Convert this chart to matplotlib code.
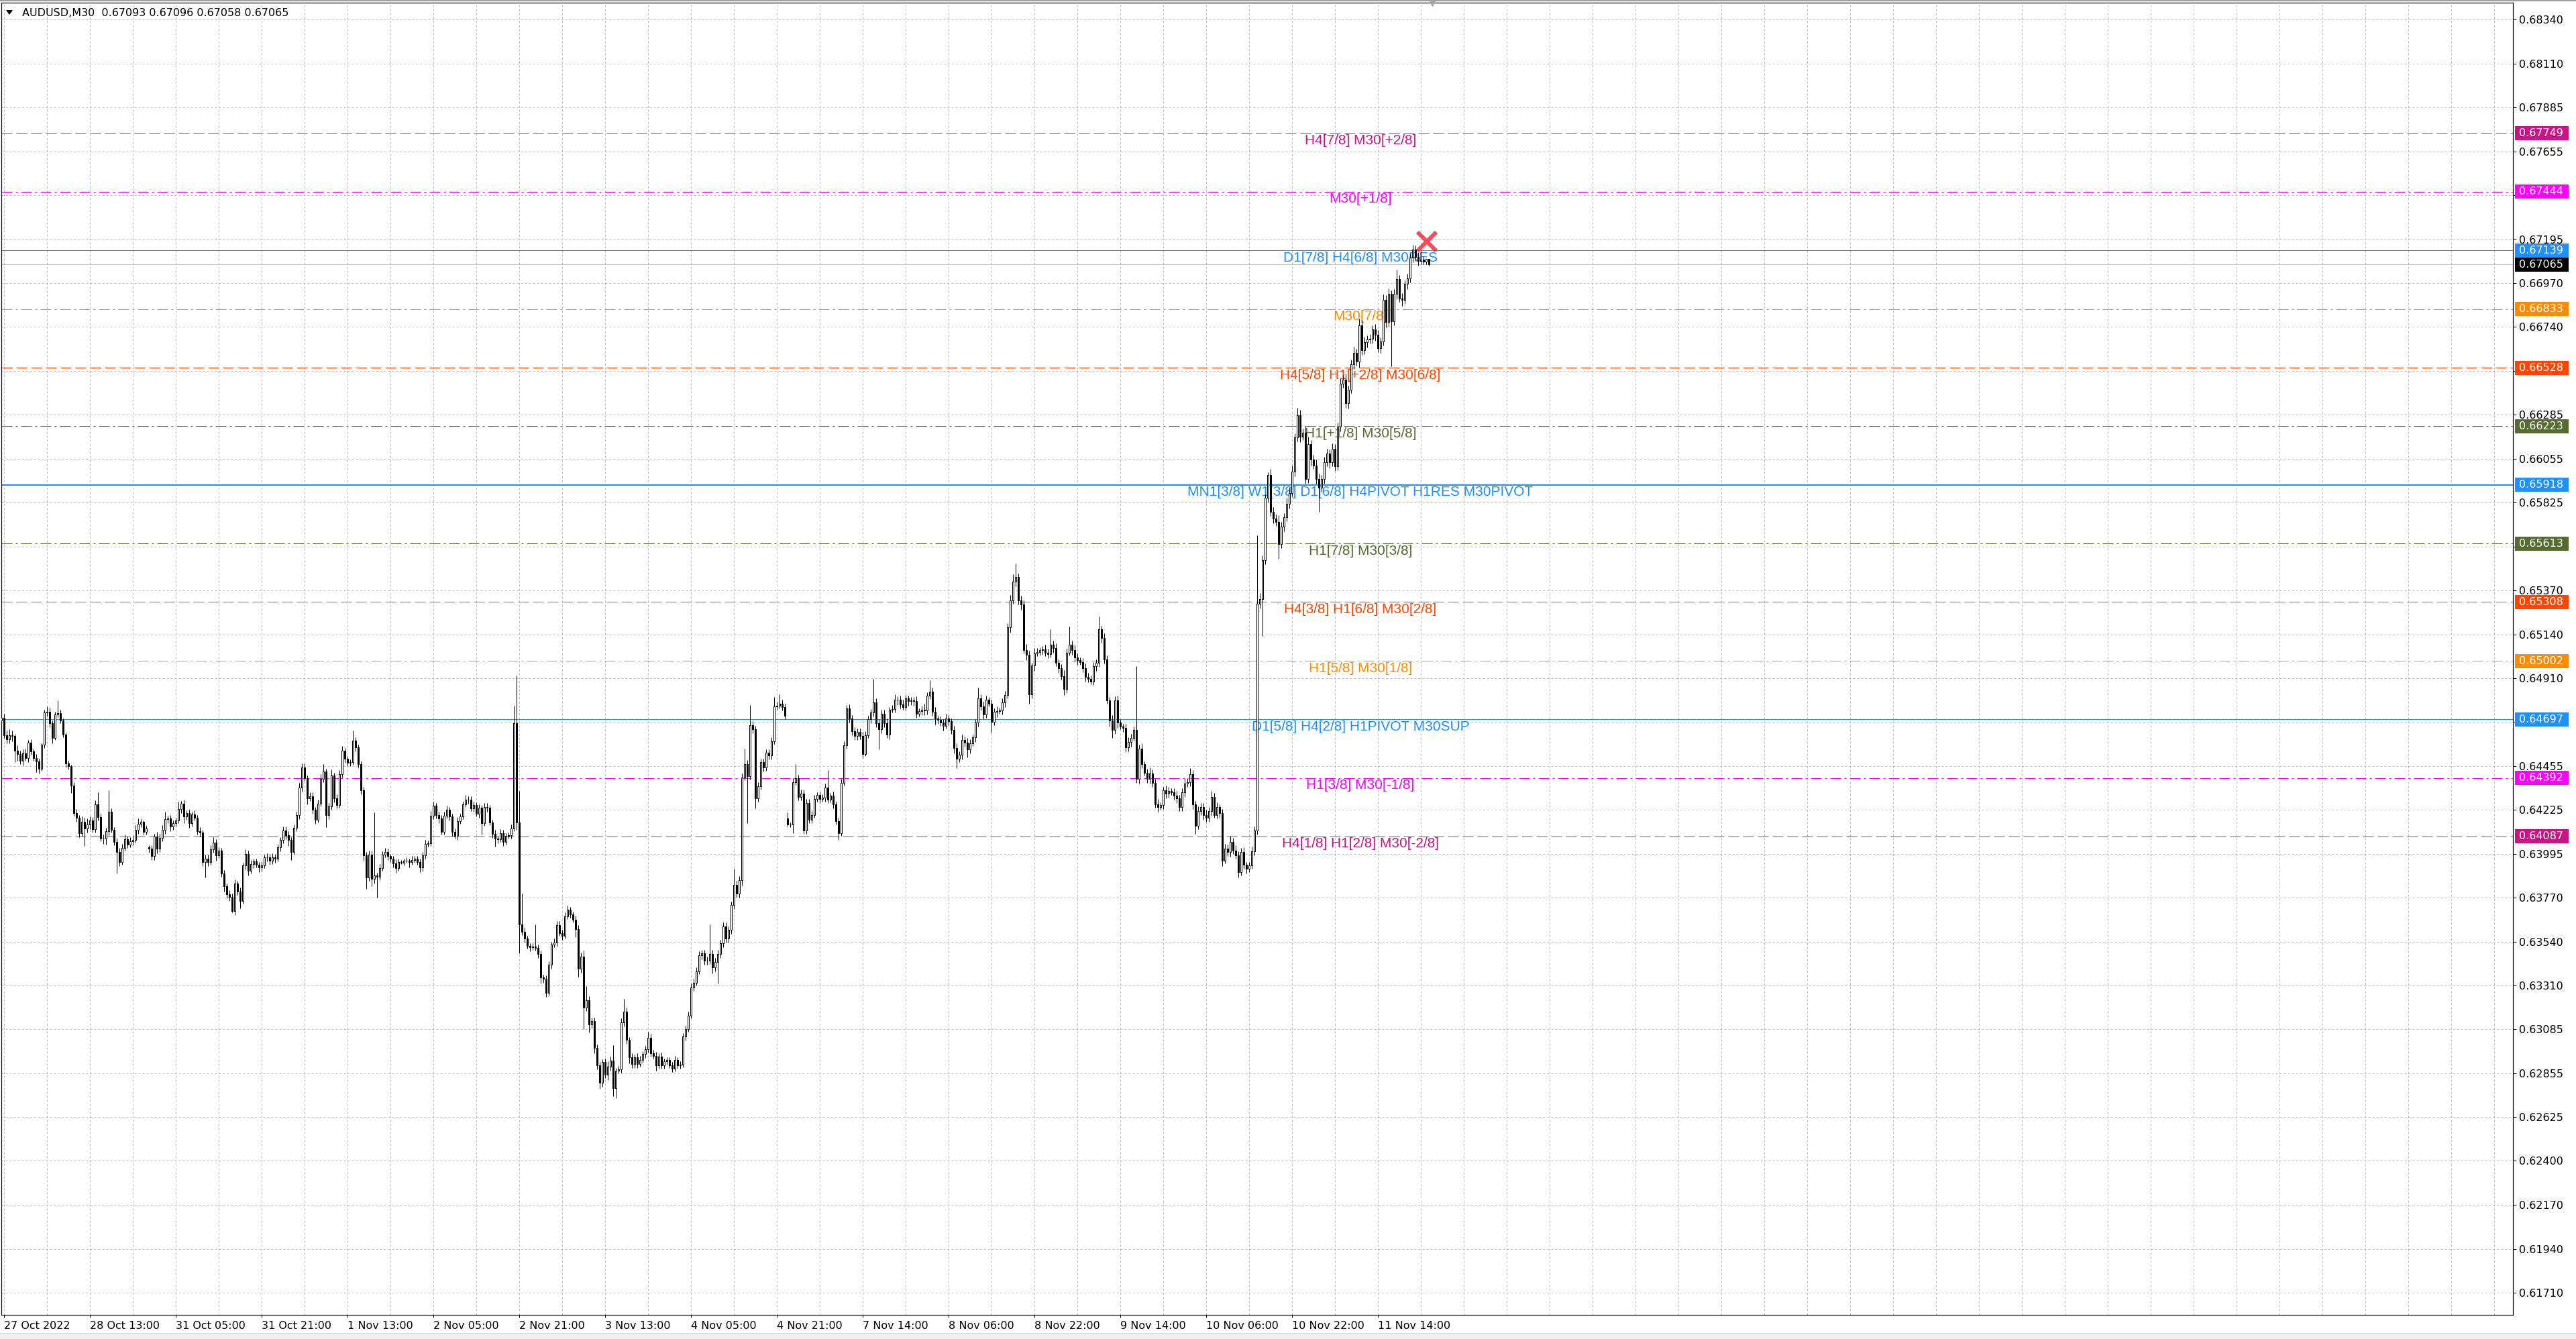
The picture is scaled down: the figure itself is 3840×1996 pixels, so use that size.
import matplotlib
matplotlib.use("Agg")
import matplotlib.pyplot as plt
import matplotlib.transforms as mtransforms
from matplotlib.patches import Rectangle, Polygon
import numpy as np

# ---------------- data ----------------
symbol_title = "AUDUSD,M30  0.67093 0.67096 0.67058 0.67065"
BASE = 0.60          # prices below are stored as points above 0.60000
PT = 1e-5

closes = [
4705,4614,4594,4614,4612,4533,4518,4483,4521,4496,
4575,4529,4497,4478,4440,4564,4732,4736,4677,4599,
4723,4731,4691,4619,4467,4452,4353,4209,4185,4104,
4165,4128,4150,4171,4124,4255,4189,4078,4075,4113,
4215,4121,4060,4006,3954,4029,4073,4046,4063,4070,
4120,4152,4162,4112,4129,4023,3985,4087,4025,4079,
4121,4177,4180,4140,4155,4170,4230,4258,4193,4208,
4158,4202,4185,4116,4107,3954,3972,3954,4022,4057,
3990,4012,3896,3827,3786,3771,3699,3842,3802,3752,
3937,3997,3908,3943,3958,3940,3926,3937,3977,3980,
3960,3978,3972,4031,4068,4119,4093,4068,4006,4131,
4197,4342,4446,4391,4286,4298,4226,4174,4258,4388,
4425,4197,4243,4405,4286,4252,4413,4533,4491,4470,
4475,4585,4552,4463,4327,3990,3875,3994,3867,3884,
3878,3923,3994,4008,3985,3970,3947,3922,3955,3952,
3962,3960,3955,3964,3972,3955,3925,3990,4048,4052,
4196,4248,4200,4180,4111,4196,4227,4192,4110,4090,
4168,4192,4255,4278,4280,4235,4250,4205,4236,4157,
4240,4236,4160,4101,4075,4073,4105,4059,4090,4093,
4130,4677,4161,3630,3592,3555,3517,3510,3515,3508,
3474,3353,3345,3274,3418,3524,3535,3626,3585,3570,
3671,3706,3680,3655,3604,3398,3463,3195,3236,3107,
3125,2985,2894,2803,2912,2848,2887,2921,2776,2867,
2876,3119,3175,3028,2937,2902,2937,2902,2925,2955,
2978,3039,2960,2945,2897,2942,2897,2915,2922,2897,
2879,2924,2897,2900,3044,3085,3155,3302,3325,3385,
3468,3478,3440,3442,3475,3405,3435,3475,3530,3620,
3555,3600,3729,3835,3790,3860,4395,4464,4400,4668,
4644,4287,4348,4473,4445,4522,4510,4584,4763,4768,
4778,4760,4717,4151,4150,4371,4389,4294,4310,4119,
4263,4175,4198,4284,4302,4282,4288,4342,4280,4300,
4253,4168,4104,4366,4563,4755,4700,4636,4610,4630,
4612,4517,4615,4697,4732,4786,4677,4644,4726,4676,
4619,4747,4752,4798,4801,4775,4762,4805,4792,4795,
4793,4726,4740,4748,4744,4819,4842,4737,4700,4693,
4682,4664,4700,4686,4642,4549,4493,4512,4589,4575,
4540,4572,4604,4679,4807,4763,4724,4800,4778,4685,
4735,4740,4743,4786,4825,5177,5318,5414,5437,5316,
5297,5059,5034,4828,4976,5042,5049,5057,5060,5045,
5036,5086,5069,4993,4964,4923,4854,5045,5086,5059,
5020,5006,4995,4962,4918,4909,4895,4975,4990,5165,
5120,5009,4797,4690,4641,4797,4679,4660,4653,4552,
4580,4600,4641,4386,4546,4464,4420,4386,4415,4367,
4256,4240,4250,4327,4310,4325,4318,4300,4285,4240,
4318,4362,4370,4412,4256,4141,4218,4240,4200,4185,
4220,4293,4200,4240,4210,3962,4024,4007,4060,4015,
3990,3900,4007,3940,3920,3935,4010,4118,5298,5325,
5525,5850,5970,5777,5743,5725,5610,5700,5750,5821,
5877,5988,6166,6282,6170,6190,5948,6130,6050,6020,
5950,5904,5950,6035,6082,6035,6105,6015,6222,6444,
6466,6344,6415,6545,6607,6560,6750,6620,6660,6675,
6680,6727,6700,6629,6665,6880,6767,6912,6770,6912,
6990,6890,6880,6964,6994,7101,7145,7105,7085,7092,
7080,7093,7065]

# opens follow the previous close except where the chart shows a gap
open_gaps = {0: 4690, 55: 4030, 293: 4182, 532: 7093}

upper_wick = [
15,20,25,30,25,10,30,15,20,25,
15,20,15,20,15,10,15,30,20,15,
15,64,15,10,10,15,10,15,20,15,
25,20,30,20,15,20,62,15,20,20,
112,20,15,15,20,20,25,15,20,25,
25,30,15,10,15,10,20,15,25,20,
25,40,15,20,15,15,37,15,20,15,
20,15,20,15,20,15,20,20,20,25,
15,20,15,15,15,20,20,20,15,20,
15,25,15,20,15,15,15,20,15,20,
15,20,15,15,15,20,20,20,15,20,
20,25,23,20,15,20,20,15,20,25,
40,15,20,30,15,20,20,25,15,15,
15,55,20,15,15,20,15,20,20,330,
15,20,15,20,15,10,15,20,15,10,
10,15,10,20,15,15,15,15,20,15,
25,20,15,15,20,20,20,15,15,20,
20,15,15,27,15,15,20,15,20,15,
20,20,15,15,20,15,20,15,15,15,
20,91,248,163,160,20,15,15,15,115,
15,20,15,20,20,15,20,20,20,15,
20,20,15,15,20,20,20,30,70,20,
20,20,20,20,15,20,30,20,78,15,
15,20,68,20,15,20,15,20,20,15,
20,30,20,15,20,15,20,15,15,15,
15,20,15,15,20,15,20,20,20,20,
20,20,20,20,155,20,20,20,20,20,
20,20,20,84,20,20,20,82,20,102,
20,20,20,20,20,20,20,20,50,20,
50,20,20,31,10,20,75,20,20,20,
20,20,20,20,15,20,20,20,90,15,
20,15,15,20,20,15,20,20,20,20,
20,20,20,20,20,123,20,20,20,20,
25,15,20,30,15,20,25,20,15,20,
20,25,15,20,30,20,60,20,25,15,
20,15,25,20,15,20,25,20,30,20,
25,20,15,20,56,20,25,20,15,20,
20,25,15,20,20,20,25,40,73,20,
25,20,30,20,15,25,20,15,20,25,
20,81,20,25,15,20,30,20,93,20,
25,20,15,20,25,20,15,20,20,66,
20,25,20,15,30,20,25,20,15,20,
25,20,20,334,20,25,15,20,30,20,
20,25,15,20,25,20,15,20,25,20,
20,25,20,30,20,15,25,20,20,25,
20,30,20,25,15,20,25,20,30,20,
25,20,20,25,15,20,25,20,356,30,
25,20,14,30,25,20,35,25,20,30,
25,30,20,36,25,20,30,40,20,25,
30,25,20,30,25,20,30,25,20,30,
25,30,20,25,30,20,35,25,30,20,
25,20,30,25,20,30,25,30,20,25,
49,20,25,20,25,20,23,20,25,43,
15,3,3]

lower_wick = [
20,15,20,20,30,58,35,20,25,15,
20,15,15,55,25,10,15,20,20,25,
10,15,15,15,20,15,40,15,20,20,
15,90,20,25,15,15,20,15,25,30,
20,15,20,110,20,15,15,20,15,20,
15,20,15,15,15,20,20,20,25,20,
15,20,20,25,20,15,15,20,35,20,
25,20,15,20,20,20,80,20,15,20,
30,15,20,25,20,20,6,20,20,40,
15,20,25,15,20,15,25,20,15,20,
20,15,20,15,20,15,20,30,40,15,
15,20,20,15,30,15,20,20,15,15,
20,60,20,15,20,20,15,20,20,15,
15,15,20,15,20,30,60,20,40,25,
110,20,15,15,20,15,20,25,15,10,
15,10,30,15,15,15,25,20,20,15,
15,20,20,25,15,15,15,20,20,15,
20,15,15,15,20,15,20,15,20,60,
15,20,15,20,40,20,15,20,15,15,
15,15,40,151,20,20,15,20,15,15,
20,30,20,23,15,20,15,20,15,20,
15,15,15,15,40,40,20,111,15,40,
20,25,20,30,20,20,30,20,40,52,
15,20,20,20,30,20,20,20,15,15,
20,15,20,15,30,20,20,20,15,15,
20,15,20,20,15,20,15,15,20,15,
15,20,20,20,20,30,20,115,20,20,
20,20,20,20,20,20,30,15,244,15,
20,55,20,15,20,15,20,20,15,15,
15,15,20,12,15,47,15,20,20,20,
20,20,20,15,15,20,15,20,20,15,
20,20,35,15,15,20,20,20,20,20,
20,20,10,15,20,20,20,104,20,20,
20,25,15,20,25,20,15,20,25,20,
25,20,15,20,25,20,15,20,30,20,
20,25,15,20,20,30,50,20,25,20,
40,20,15,25,20,20,25,20,15,58,
20,25,15,20,25,20,30,20,25,20,
30,20,30,50,20,25,15,20,25,20,
20,15,25,20,25,20,30,20,15,25,
20,25,15,20,25,20,15,20,25,20,
25,20,20,30,40,20,25,15,20,25,
20,25,15,20,25,20,15,20,25,20,
20,25,15,20,25,20,15,20,25,20,
20,25,15,20,25,40,15,20,25,20,
20,25,15,20,25,30,15,20,25,20,
20,26,15,20,25,20,15,20,20,25,
194,20,25,20,25,20,78,20,25,20,
25,20,25,20,30,20,25,20,30,20,
25,127,20,25,20,30,20,25,20,25,
20,25,30,20,25,20,30,25,20,25,
20,25,30,20,25,20,30,25,236,20,
25,20,30,20,25,20,25,20,25,20,
15,15,7]

time_labels = ["27 Oct 2022", "28 Oct 13:00", "31 Oct 05:00", "31 Oct 21:00",
               "1 Nov 13:00", "2 Nov 05:00", "2 Nov 21:00", "3 Nov 13:00",
               "4 Nov 05:00", "4 Nov 21:00", "7 Nov 14:00", "8 Nov 06:00",
               "8 Nov 22:00", "9 Nov 14:00", "10 Nov 06:00", "10 Nov 22:00",
               "11 Nov 14:00"]
first_label_bar = 1
bars_per_label = 32
bars_per_grid = 16

price_ticks = [0.68340, 0.68110, 0.67885, 0.67655, 0.67425, 0.67195, 0.66970,
               0.66740, 0.66510, 0.66285, 0.66055, 0.65825, 0.65595, 0.65370,
               0.65140, 0.64910, 0.64680, 0.64455, 0.64225, 0.63995, 0.63770,
               0.63540, 0.63310, 0.63085, 0.62855, 0.62625, 0.62400, 0.62170,
               0.61940, 0.61710]
covered_ticks = [0.67425, 0.66510, 0.65595, 0.64680]

level_prices = [0.67749, 0.67444, 0.67139, 0.66833, 0.66528, 0.66223, 0.65918,
                0.65613, 0.65308, 0.65002, 0.64697, 0.64392, 0.64087]
level_texts = ["H4[7/8] M30[+2/8]", "M30[+1/8]", "D1[7/8] H4[6/8] M30RES",
               "M30[7/8]", "H4[5/8] H1[+2/8] M30[6/8]", "H1[+1/8] M30[5/8]",
               "MN1[3/8] W1[3/8] D1[6/8] H4PIVOT H1RES M30PIVOT",
               "H1[7/8] M30[3/8]", "H4[3/8] H1[6/8] M30[2/8]", "H1[5/8] M30[1/8]",
               "D1[5/8] H4[2/8] H1PIVOT M30SUP", "H1[3/8] M30[-1/8]",
               "H4[1/8] H1[2/8] M30[-2/8]"]

current_price = 0.67065
signal_bar = 531.3
signal_price = 0.67185
shift_bar = 533.4

# ---------------- styles ----------------
VIOLET, MAGENTA, BLUE = "#C71585", "#FF00FF", "#1E90FF"
ORANGE, REDORANGE, OLIVE = "#FF8C00", "#FF4500", "#556B2F"
level_colors = [VIOLET, MAGENTA, BLUE, ORANGE, REDORANGE, OLIVE, BLUE,
                OLIVE, REDORANGE, ORANGE, BLUE, MAGENTA, VIOLET]
DASH = (0, (16, 6))
DASHDOT = (0, (16, 5, 3, 5))
level_styles = [DASH, DASHDOT, "-", DASHDOT, DASH, DASHDOT, "-",
                DASHDOT, DASH, DASHDOT, "-", DASHDOT, DASH]
level_widths = [1, 1, 1, 1, 1, 1, 2, 1, 1, 1, 1, 1, 1]

W, H, DPI = 3840, 1996, 100
PX = 72.0 / DPI            # points per pixel
AX_L, AX_R, AX_T, AX_B = 2, 3746, 4, 1960
BAR_PX = 4.0
FIRST_BAR_PX = 1.8
YTOP, YBOT = 0.68429, 0.61596
LABEL_X_BAR = 506.55
AXFONT = "DejaVu Sans"
LVLFONT = "Liberation Sans"
GRID_C = "#BDBDBD"

# ---------------- build candles ----------------
n = len(closes)
c = np.array(closes, dtype=float)
o = np.empty(n)
o[1:] = c[:-1]
o[0] = c[0]
for k, v in open_gaps.items():
    o[k] = v
hi = np.maximum(o, c) + np.array(upper_wick)
lo = np.minimum(o, c) - np.array(lower_wick)
o_p, c_p, h_p, l_p = [BASE + a * PT for a in (o, c, hi, lo)]
x = np.arange(n)

fig = plt.figure(figsize=(W / DPI, H / DPI), dpi=DPI)
fig.patch.set_facecolor("white")
ax = fig.add_axes([AX_L / W, 1 - AX_B / H, (AX_R - AX_L) / W, (AX_B - AX_T) / H])
x0 = (AX_L - FIRST_BAR_PX) / BAR_PX
x1 = x0 + (AX_R - AX_L) / BAR_PX
ax.set_xlim(x0, x1)
ax.set_ylim(YBOT, YTOP)

# grid
for p in price_ticks:
    ax.axhline(p, color=GRID_C, lw=PX, ls=(0, (3, 3)), zorder=0.5)
k = 0
while first_label_bar + bars_per_grid * k < x1:
    ax.axvline(first_label_bar + bars_per_grid * k, color=GRID_C, lw=PX,
               ls=(0, (3, 3)), zorder=0.5)
    k += 1

# level lines and labels
lbl_off = mtransforms.offset_copy(ax.transData, fig=fig, x=0, y=-11, units="dots")
for p, t, col, st, lw in zip(level_prices, level_texts, level_colors,
                             level_styles, level_widths):
    ax.axhline(p, color=col, lw=lw * PX, ls=st, zorder=1.5)
    ax.text(LABEL_X_BAR, p, t, transform=lbl_off, ha="center", va="center",
            color=col, fontsize=15, family=LVLFONT, zorder=2)

# current price line
ax.axhline(current_price, color="#C0C0C0", lw=PX, zorder=1.6)

# candles
bull = c_p > o_p
bear = c_p < o_p
doji = c_p == o_p
ax.vlines(x, l_p, h_p, color="black", lw=PX, zorder=3)
body_w = 0.55
ax.bar(x[bull], (c_p - o_p)[bull], bottom=o_p[bull], width=body_w,
       facecolor="white", edgecolor="black", linewidth=PX, zorder=4)
ax.bar(x[bear], (o_p - c_p)[bear], bottom=c_p[bear], width=body_w,
       facecolor="black", edgecolor="black", linewidth=PX, zorder=4)
ax.hlines(c_p[doji], x[doji] - body_w / 2 - 0.1, x[doji] + body_w / 2 + 0.1,
          color="black", lw=PX, zorder=4)

# signal cross
ax.plot([signal_bar], [signal_price], marker="x", ms=28 * PX, mew=6 * PX,
        color="#F03C4B", alpha=0.9, zorder=6, clip_on=False)
# chart shift marker
ax.plot([shift_bar], [YTOP], marker="v", ms=10 * PX, color="#A8A8A8",
        zorder=6, clip_on=False)

# axes styling
for s in ax.spines.values():
    s.set_color("black")
    s.set_linewidth(PX * 1.2)
ax.yaxis.tick_right()
ax.set_yticks(price_ticks)
ax.set_yticklabels(["" if p in covered_ticks else f"{p:.5f}" for p in price_ticks])
ax.tick_params(axis="y", direction="out", length=5 * PX, width=PX, pad=4 * PX,
               labelsize=11.5, colors="black")
xt = [first_label_bar + bars_per_label * i for i in range(len(time_labels))]
ax.set_xticks(xt)
ax.set_xticklabels(time_labels)
ax.tick_params(axis="x", direction="out", length=4 * PX, width=PX, pad=5 * PX,
               labelsize=11.5, colors="black")
for lbl in ax.get_xticklabels() + ax.get_yticklabels():
    lbl.set_family(AXFONT)
for lbl in ax.get_xticklabels():
    lbl.set_ha("left")

# price boxes on the right scale
blend = mtransforms.blended_transform_factory(fig.transFigure, ax.transData)
box_h = 21 / ((AX_B - AX_T) / (YTOP - YBOT))
box_x0, box_w, txt_x = 3749 / W, 80 / W, 3755 / W
for p, col in list(zip(level_prices, level_colors)) + [(current_price, "black")]:
    ax.add_patch(Rectangle((box_x0, p - box_h / 2), box_w, box_h, transform=blend,
                           facecolor=col, edgecolor="none", clip_on=False, zorder=7))
    ax.text(txt_x, p, f"{p:.5f}", transform=blend, ha="left", va="center",
            color="white", fontsize=11.5, family=AXFONT, clip_on=False, zorder=8)

# header
fig.text(33 / W, 1 - 19 / H, symbol_title, fontsize=11.5, family=AXFONT,
         ha="left", va="center", color="black")
fig.add_artist(Polygon([(9 / W, 1 - 15 / H), (19 / W, 1 - 15 / H), (14 / W, 1 - 22 / H)],
                       closed=True, transform=fig.transFigure, facecolor="black",
                       edgecolor="none"))
# window borders
fig.add_artist(Rectangle((0, 1 - 2 / H), 1, 2 / H, transform=fig.transFigure,
                         facecolor="#A0A0A0", edgecolor="none"))
fig.add_artist(Rectangle((0, 0), 1, 8 / H, transform=fig.transFigure,
                         facecolor="#F0F0F0", edgecolor="none"))
fig.add_artist(Rectangle((0, 8 / H), 1, 1.5 / H, transform=fig.transFigure,
                         facecolor="#D8D8D8", edgecolor="none"))

fig.savefig("out.png", dpi=DPI, facecolor="white")
